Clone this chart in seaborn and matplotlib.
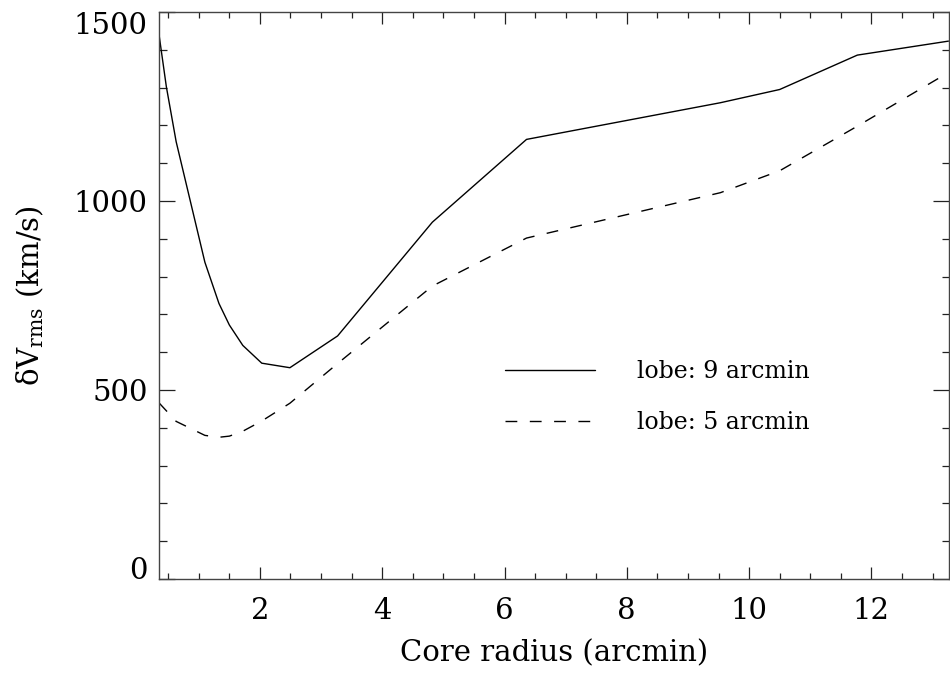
import pandas as pd
import matplotlib
matplotlib.use("Agg")
import matplotlib.pyplot as plt
from matplotlib.ticker import MultipleLocator
import seaborn as sns

# core radius (arcmin), same grid for both curves
core_radius = [0.35, 0.47, 0.63, 1.10, 1.33, 1.50, 1.72, 2.03, 2.49, 3.27,
               4.82, 6.36, 9.53, 10.50, 11.77, 13.26]
# rms velocity (km/s) for the two lobe sizes
v_lobe9 = [1440, 1302, 1157, 838, 729, 672, 618, 571, 559, 643,
           944, 1163, 1260, 1295, 1386, 1423]
v_lobe5 = [466, 445, 417, 380, 375, 378, 391, 418, 465, 570,
           775, 902, 1022, 1080, 1198, 1340]
labels = ["lobe: 9 arcmin", "lobe: 5 arcmin"]

df = pd.DataFrame({"r": core_radius, "v9": v_lobe9, "v5": v_lobe5})

sns.set_style("ticks")
plt.rcParams["font.family"] = ["DejaVu Serif"]
plt.rcParams["mathtext.fontset"] = "dejavuserif"
plt.rcParams["text.color"] = "black"
plt.rcParams["axes.labelcolor"] = "black"
plt.rcParams["xtick.labelcolor"] = "black"
plt.rcParams["ytick.labelcolor"] = "black"

fig = plt.figure(figsize=(9.5, 6.75), dpi=100)
ax = fig.add_axes([0.1674, 0.1422, 0.8316, 0.84])

sns.lineplot(data=df, x="r", y="v9", ax=ax, color="black", lw=1.0, label=labels[0])
sns.lineplot(data=df, x="r", y="v5", ax=ax, color="black", lw=1.0,
             linestyle=(0, (8.5, 9)), label=labels[1])

ax.set_xlim(0.35, 13.27)
ax.set_ylim(0, 1500)
ax.xaxis.set_major_locator(MultipleLocator(2))
ax.xaxis.set_minor_locator(MultipleLocator(0.5))
ax.yaxis.set_major_locator(MultipleLocator(500))
ax.yaxis.set_minor_locator(MultipleLocator(100))

for s in ax.spines.values():
    s.set_visible(True)
    s.set_color("#444444")
    s.set_linewidth(1.0)

ax.tick_params(which="both", direction="in", top=True, right=True,
               color="#222222", width=0.9, labelsize=21)
ax.tick_params(axis="x", which="major", length=8.5, pad=13)
ax.tick_params(axis="x", which="minor", length=4.3)
ax.tick_params(axis="y", which="major", length=11.5, pad=8)
ax.tick_params(axis="y", which="minor", length=5.4)

ax.set_xlabel("Core radius (arcmin)", fontsize=21, labelpad=10)
ax.set_ylabel("δV$_{\\mathrm{rms}}$ (km/s)", fontsize=21, labelpad=20)

ax.legend(loc="center left", bbox_to_anchor=(505 / 950, 1 - 397 / 675),
          bbox_transform=fig.transFigure, frameon=False, fontsize=17,
          handlelength=3.8, handletextpad=1.8, labelspacing=1.2,
          borderpad=0, borderaxespad=0)

# keep the end labels inside the axis range, as in the original
fig.canvas.draw()
for t in ax.yaxis.get_major_ticks():
    if abs(t.get_loc() - 0) < 1e-6:
        t.label1.set_va("baseline")
    elif abs(t.get_loc() - 1500) < 1e-6:
        t.label1.set_va("top")

fig.savefig("out.png", dpi=100)
